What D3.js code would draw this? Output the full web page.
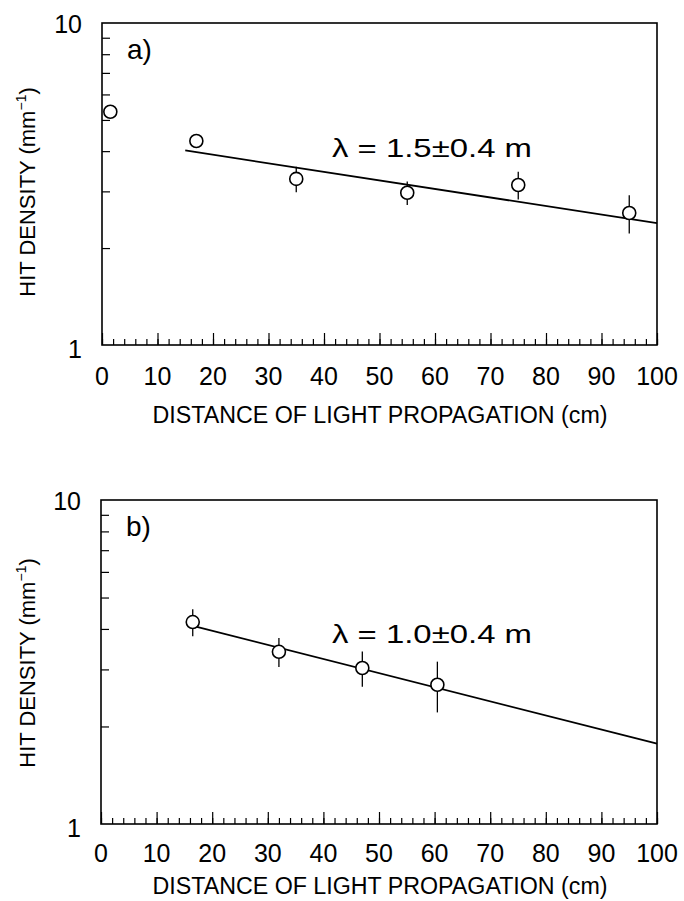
<!DOCTYPE html>
<html>
<head>
<meta charset="utf-8">
<script src="https://cdn.jsdelivr.net/npm/d3@7/dist/d3.min.js"></script>
<style>
  body { margin: 0; background: #fff; }
  svg { display: block; font-family: 'Liberation Sans', Arial, sans-serif; }
</style>
</head>
<body>
<svg id="chart" width="684" height="901"></svg>
<script>
// Panel a) measured hit density vs distance
const distA = [1.5, 17, 35, 55, 75, 95];
const densityA = [5.3, 4.3, 3.28, 2.97, 3.14, 2.57];
const errA = [0.15, 0.2, 0.3, 0.25, 0.31, 0.35];
const fitDistA = [15, 100];
const fitDensityA = [4.02, 2.39];

// Panel b)
const distB = [16.5, 32, 47, 60.5];
const densityB = [4.2, 3.4, 3.03, 2.69];
const errB = [0.4, 0.35, 0.38, 0.48];
const fitDistB = [16, 100];
const fitDensityB = [4.11, 1.77];

// Axes
const xTicks = [0, 10, 20, 30, 40, 50, 60, 70, 80, 90, 100];
const yTickLabels = [1, 10];
const yMinorTicks = [2, 3, 4, 5, 6, 7, 8, 9];

const panels = [
  {
    tag: 'a)', lambda: 'λ = 1.5±0.4 m',
    dist: distA, density: densityA, err: errA, fitDist: fitDistA, fitDensity: fitDensityA,
    left: 102, right: 657, top: 23, bottom: 345,
    tickDy: 40, titleDy: 78, lambdaY: 157, yTitleY: 192
  },
  {
    tag: 'b)', lambda: 'λ = 1.0±0.4 m',
    dist: distB, density: densityB, err: errB, fitDist: fitDistB, fitDensity: fitDensityB,
    left: 101, right: 657, top: 500, bottom: 824,
    tickDy: 38, titleDy: 70, lambdaY: 643, yTitleY: 663
  }
];

const svg = d3.select('#chart');

panels.forEach((p) => drawPanel(p));

function drawPanel(p) {
  const x = d3.scaleLinear().domain([0, 100]).range([p.left, p.right]);
  const y = d3.scaleLog().domain([1, 10]).range([p.bottom, p.top]);
  const g = svg.append('g');

  // Frame
  g.append('rect').
    attr('x', p.left).attr('y', p.top).
    attr('width', p.right - p.left).attr('height', p.bottom - p.top).
    attr('fill', 'none').attr('stroke', '#000').attr('stroke-width', 1.6);

  // Bottom axis, ticks point inward
  const minor = d3.range(0, 101, 2);
  g.append('g').
    attr('transform', `translate(0,${p.bottom})`).
    call(d3.axisBottom(x).tickValues(minor).tickSize(-6).tickFormat(''));
  g.append('g').
    attr('transform', `translate(0,${p.bottom})`).
    call(d3.axisBottom(x).tickValues(xTicks).tickSize(-12).tickFormat(''));
  g.selectAll('.domain').remove();
  g.selectAll('.tick line').attr('stroke-width', 1.2);

  g.selectAll('.xlab').data(xTicks).enter().
    append('text').
      attr('class', 'xlab').
      attr('x', (d) => x(d)).
      attr('y', p.bottom + p.tickDy).
      attr('text-anchor', 'middle').
      attr('font-size', 25).
      text((d) => d);

  // Left axis, log minor ticks
  const yAxis = g.append('g').
    attr('transform', `translate(${p.left},0)`).
    call(d3.axisLeft(y).tickValues(yMinorTicks).tickSize(-8).tickFormat(''));
  yAxis.select('.domain').remove();
  yAxis.selectAll('.tick line').attr('stroke-width', 1.2);

  g.selectAll('.ylab').data(yTickLabels).enter().
    append('text').
      attr('class', 'ylab').
      attr('x', p.left - 20).
      attr('y', (d) => y(d)).
      attr('dy', (d) => d === 1 ? 13 : 10).
      attr('text-anchor', 'end').
      attr('font-size', 25).
      text((d) => d);

  // Axis titles
  g.append('text').
    attr('x', 380).
    attr('y', p.bottom + p.titleDy).
    attr('text-anchor', 'middle').
    attr('font-size', 23).
    attr('textLength', 455).
    attr('lengthAdjust', 'spacingAndGlyphs').
    text('DISTANCE OF LIGHT PROPAGATION (cm)');

  const yTitle = g.append('text').
    attr('transform', `translate(35,${p.yTitleY}) rotate(-90)`).
    attr('text-anchor', 'middle').
    attr('font-size', 22);
  yTitle.append('tspan').text('HIT DENSITY (mm');
  yTitle.append('tspan').attr('font-size', 14).attr('dy', -9).text('−1');
  yTitle.append('tspan').attr('dy', 9).text(')');

  // Panel tag and fit result
  g.append('text').
    attr('x', p.left + 25).
    attr('y', p.top + 36).
    attr('font-size', 28).
    text(p.tag);
  g.append('text').
    attr('x', 332).
    attr('y', p.lambdaY).
    attr('font-size', 25).
    attr('textLength', 200).
    attr('lengthAdjust', 'spacingAndGlyphs').
    text(p.lambda);

  // Exponential fit (straight on log scale)
  const line = d3.line().x((d) => x(d[0])).y((d) => y(d[1]));
  g.append('path').
    datum(d3.zip(p.fitDist, p.fitDensity)).
    attr('d', line).
    attr('fill', 'none').
    attr('stroke', '#000').
    attr('stroke-width', 1.8);

  const pts = d3.zip(p.dist, p.density, p.err);

  // Error bars
  g.selectAll('.err').data(pts).enter().
    append('line').
      attr('class', 'err').
      attr('x1', (d) => x(d[0])).attr('x2', (d) => x(d[0])).
      attr('y1', (d) => y(d[1] + d[2])).
      attr('y2', (d) => y(d[1] - d[2])).
      attr('stroke', '#000').
      attr('stroke-width', 1.3);

  // Open circles
  g.selectAll('.pt').data(pts).enter().
    append('circle').
      attr('class', 'pt').
      attr('cx', (d) => x(d[0])).
      attr('cy', (d) => y(d[1])).
      attr('r', 6.5).
      attr('fill', '#fff').
      attr('stroke', '#000').
      attr('stroke-width', 1.6);
}
</script>
</body>
</html>
